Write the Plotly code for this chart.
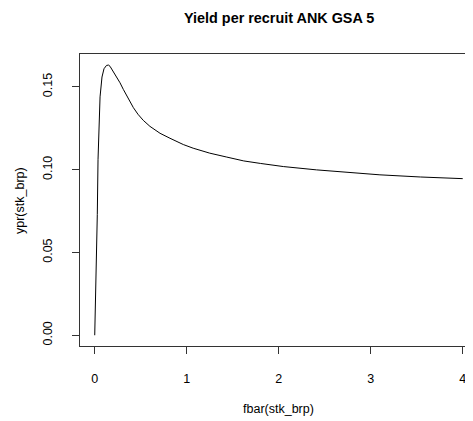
import plotly.graph_objects as go

# Data (F vs yield per recruit)
fbar = [0.0, 0.0065, 0.014, 0.022, 0.028, 0.036, 0.047, 0.058, 0.079, 0.101,
        0.128, 0.150, 0.166, 0.199, 0.239, 0.275, 0.311, 0.362, 0.42, 0.47,
        0.528, 0.60, 0.71, 0.818, 0.89, 0.963, 1.07, 1.18, 1.25, 1.43,
        1.62, 1.80, 2.05, 2.41, 2.78, 3.10, 3.54, 4.0]
ypr = [0.0, 0.0145, 0.027, 0.051, 0.073, 0.106, 0.130, 0.144, 0.156, 0.161,
       0.163, 0.1632, 0.1625, 0.1595, 0.1560, 0.1525, 0.1485, 0.1430, 0.1375, 0.1335,
       0.1298, 0.1262, 0.1220, 0.1190, 0.1170, 0.1152, 0.113, 0.111, 0.110, 0.1077,
       0.1053, 0.1038, 0.1019, 0.0999, 0.0982, 0.0969, 0.0956, 0.0946]

x_ticks = [0, 1, 2, 3, 4]
x_ticktext = ["0", "1", "2", "3", "4"]
y_ticks = [0.0, 0.05, 0.10, 0.15]
y_ticktext = ["0.00", "0.05", "0.10", "0.15"]

title_text = "Yield per recruit ANK GSA 5"
x_title = "fbar(stk_brp)"
y_title = "ypr(stk_brp)"

FONT = "Liberation Sans, Arial, sans-serif"

# The page body has an 8px margin, so the figure is laid out 8px up/left.
L, T, PW, PH = 72, 46, 397, 292

fig = go.Figure()
fig.add_trace(go.Scatter(x=fbar, y=ypr, mode="lines",
                         line=dict(color="black", width=1), showlegend=False,
                         hoverinfo="skip"))

fig.update_layout(
    width=473, height=421,
    margin=dict(l=L, r=473 - L - PW, t=T, b=421 - T - PH),
    paper_bgcolor="white", plot_bgcolor="white",
    font=dict(family=FONT, size=12, color="black"),
    showlegend=False,
    xaxis=dict(range=[-0.16, -0.16 + PW / 92], tickvals=x_ticks, ticktext=x_ticktext,
               showgrid=False, zeroline=False, showline=True, mirror=True, linecolor="#333",
               linewidth=1, ticks="outside", ticklen=7, tickcolor="#333",
               tickfont=dict(size=12.5, family=FONT, color="black"),
               ticklabelstandoff=14, automargin=False, ticklabeloverflow="allow"),
    yaxis=dict(range=[-0.0065, 0.1699], tickvals=y_ticks, ticktext=y_ticktext,
               showgrid=False, zeroline=False, showline=True, mirror=True, linecolor="#333",
               linewidth=1, ticks="outside", ticklen=7, tickcolor="#333",
               tickangle=-90, tickfont=dict(size=12.5, family=FONT, color="black"),
               ticklabelstandoff=15, automargin=False),
    annotations=[
        dict(text="<b>" + title_text + "</b>", xref="paper", yref="paper",
             x=(270.5 - L) / PW, y=(T + PH - 10) / PH, xanchor="center", yanchor="middle",
             showarrow=False, font=dict(size=14.4, family=FONT, color="black")),
        dict(text=x_title, xref="paper", yref="paper",
             x=(270.5 - L) / PW, y=(T + PH - 401) / PH, xanchor="center", yanchor="middle",
             showarrow=False, font=dict(size=12.5, family=FONT, color="black")),
        dict(text=y_title, xref="paper", yref="paper",
             x=(12 - L) / PW, y=(T + PH - 192) / PH, xanchor="center", yanchor="middle",
             textangle=-90, showarrow=False, font=dict(size=12.5, family=FONT, color="black")),
    ],
)

fig.write_html("out.html")
